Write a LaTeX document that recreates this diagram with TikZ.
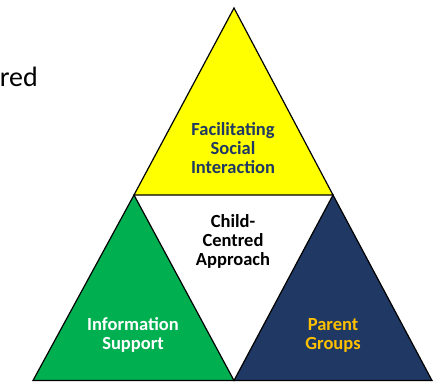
\documentclass[tikz,border=0pt]{standalone}
\usepackage{fontspec}
\setmainfont{Carlito}
\definecolor{triyellow}{HTML}{FFFF00}
\definecolor{trigreen}{HTML}{00B050}
\definecolor{trinavy}{HTML}{1F3864}
\definecolor{trigold}{HTML}{FFC000}
\definecolor{textnavy}{HTML}{1F3864}
\tikzset{
  tri/.style={draw=black,line width=1.2pt,line join=miter},
  lbl/.style={font=\fontsize{18.5}{19}\selectfont\bfseries,align=center,inner sep=0pt}
}
\begin{document}
\begin{tikzpicture}[x=1pt,y=-1pt]
\useasboundingbox (0,0) rectangle (433,381);
\clip (0,0) rectangle (433,381);
\fill[white] (0,0) rectangle (433,381);
% corner coordinates
\coordinate (apex) at (234,8);
\coordinate (jl) at (134,195);
\coordinate (jr) at (333,195);
\coordinate (bl) at (33,380.5);
\coordinate (bm) at (234,380.5);
\coordinate (br) at (432,380.5);
% triangles
\filldraw[tri,fill=triyellow] (apex) -- (jr) -- (jl) -- cycle;
\filldraw[tri,fill=trigreen] (jl) -- (bm) -- (bl) -- cycle;
\filldraw[tri,fill=trinavy] (jr) -- (br) -- (bm) -- cycle;
% labels
\node[lbl,text=textnavy] (fsi) at (233,148) {Facilitating\\Social\\Interaction};
\node[lbl,text=black] (cca) at (233,241) {Child-\\Centred\\Approach};
\node[lbl,text=white] (info) at (133,335) {Information\\Support};
\node[lbl,text=trigold] (pg) at (333,335) {Parent\\Groups};
\node[anchor=base east,inner sep=0pt,font=\fontsize{28}{32}\selectfont] (ttl) at (38,86) {red};
\end{tikzpicture}
\end{document}
